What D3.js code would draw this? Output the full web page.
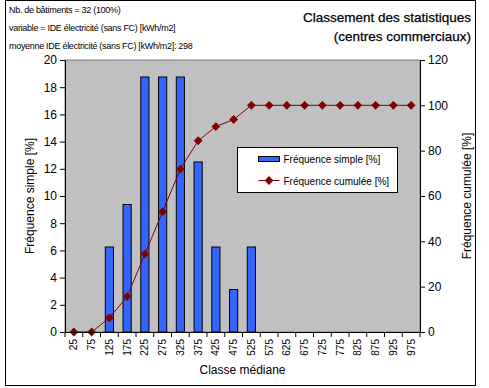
<!DOCTYPE html>
<html>
<head>
<meta charset="utf-8">
<script src="https://cdn.jsdelivr.net/npm/d3@7"></script>
<style>
  body { margin: 0; background: #fff; }
  text { font-family: "Liberation Sans", Arial, sans-serif; }
</style>
</head>
<body>
<div id="chart"></div>
<script>
// Data
const classes = [25, 75, 125, 175, 225, 275, 325, 375, 425, 475, 525, 575, 625, 675, 725, 775, 825, 875, 925, 975];
const freqSimple = [0, 0, 6.25, 9.375, 18.75, 18.75, 18.75, 12.5, 6.25, 3.125, 6.25, 0, 0, 0, 0, 0, 0, 0, 0, 0];
const freqCumul = [0, 0, 6.25, 15.625, 34.375, 53.125, 71.875, 84.375, 90.625, 93.75, 100, 100, 100, 100, 100, 100, 100, 100, 100, 100];
const leftTicks = [0, 2, 4, 6, 8, 10, 12, 14, 16, 18, 20];
const rightTicks = [0, 20, 40, 60, 80, 100, 120];
const infoLines = [
    "Nb. de bâtiments = 32 (100%)",
    "variable = IDE électricité (sans FC) [kWh/m2]",
    "moyenne IDE électricité (sans FC) [kWh/m2]: 298"
];
const titleLines = ["Classement des statistiques", "(centres commerciaux)"];

const width = 489, height = 388;
const plot = { left: 65, right: 420, top: 60, bottom: 332 };

const svg = d3.select('#chart').append('svg')
    .attr('width', width)
    .attr('height', height);

// Outer frame
svg.append('rect')
    .attr('x', 5.5).attr('y', 0.5)
    .attr('width', 470).attr('height', 385)
    .attr('fill', 'none')
    .attr('stroke', 'black');

// Info text top left
svg.append('g').selectAll('text')
    .data(infoLines)
    .join('text')
    .attr('x', 9)
    .attr('y', (d, i) => 13 + i * 18)
    .attr('font-size', 9)
    .attr('letter-spacing', -0.3)
    .text(d => d);

// Title
svg.append('g').selectAll('text')
    .data(titleLines)
    .join('text')
    .attr('x', 471)
    .attr('y', (d, i) => 22 + i * 19)
    .attr('text-anchor', 'end')
    .attr('font-size', 13.5)
    .attr('stroke', 'black')
    .attr('stroke-width', 0.25)
    .text(d => d);

const x = d3.scaleBand()
    .domain(classes)
    .range([plot.left, plot.right]);

const yL = d3.scaleLinear()
    .domain([0, 20])
    .range([plot.bottom, plot.top]);

const yR = d3.scaleLinear()
    .domain([0, 120])
    .range([plot.bottom, plot.top]);

// Plot background
svg.append('rect')
    .attr('x', plot.left).attr('y', plot.top)
    .attr('width', plot.right - plot.left)
    .attr('height', plot.bottom - plot.top)
    .attr('fill', '#c0c0c0')
    .attr('stroke', '#808080');

// Bars
const barW = x.bandwidth() * 0.46;
svg.append('g').selectAll('rect')
    .data(classes.map((c, i) => ({ c, v: freqSimple[i] })).filter(d => d.v > 0))
    .join('rect')
    .attr('x', d => x(d.c) + (x.bandwidth() - barW) / 2)
    .attr('y', d => yL(d.v))
    .attr('width', barW)
    .attr('height', d => yL(0) - yL(d.v))
    .attr('fill', '#3366ff')
    .attr('stroke', 'black')
    .attr('stroke-width', 1);

// Cumulative line
const cx = c => x(c) + x.bandwidth() / 2;
const cumData = classes.map((c, i) => ({ c, v: freqCumul[i] }));
svg.append('path')
    .datum(cumData)
    .attr('fill', 'none')
    .attr('stroke', '#800000')
    .attr('stroke-width', 1)
    .attr('d', d3.line().x(d => cx(d.c)).y(d => yR(d.v)));

const diamond = d3.symbol().type(d3.symbolDiamond2).size(50);
svg.append('g').selectAll('path')
    .data(cumData)
    .join('path')
    .attr('transform', d => `translate(${cx(d.c)},${yR(d.v)})`)
    .attr('d', diamond)
    .attr('fill', '#800000');

// Left axis
const leftAxis = svg.append('g')
    .attr('transform', `translate(${plot.left},0)`)
    .call(d3.axisLeft(yL).tickValues(leftTicks).tickSize(5).tickSizeOuter(0));
leftAxis.selectAll('text').attr('font-size', 12).attr('font-family', '"Liberation Sans", Arial, sans-serif');
leftAxis.append('text')
    .attr('transform', `rotate(-90)`)
    .attr('x', -(plot.top + plot.bottom) / 2)
    .attr('y', -31)
    .attr('fill', 'black')
    .attr('text-anchor', 'middle')
    .attr('font-size', 12)
    .text('Fréquence simple [%]');

// Right axis
const rightAxis = svg.append('g')
    .attr('transform', `translate(${plot.right},0)`)
    .call(d3.axisRight(yR).tickValues(rightTicks).tickSize(5).tickSizeOuter(0));
rightAxis.selectAll('text').attr('font-size', 12).attr('font-family', '"Liberation Sans", Arial, sans-serif');
rightAxis.append('text')
    .attr('transform', `rotate(-90)`)
    .attr('x', -(plot.top + plot.bottom) / 2)
    .attr('y', 51)
    .attr('fill', 'black')
    .attr('text-anchor', 'middle')
    .attr('font-size', 12)
    .text('Fréquence cumulée [%]');

// Bottom axis: ticks between categories
const bottomAxis = svg.append('g')
    .attr('transform', `translate(0,${plot.bottom})`)
    .call(d3.axisBottom(x).tickSize(0).tickSizeOuter(0));
bottomAxis.selectAll('.tick text')
    .attr('font-size', 10)
    .attr('font-family', '"Liberation Sans", Arial, sans-serif')
    .attr('transform', 'rotate(-90)')
    .attr('text-anchor', 'end')
    .attr('x', -7)
    .attr('y', 0)
    .attr('dy', '0.35em');
bottomAxis.append('g').selectAll('line')
    .data(classes.concat([null]))
    .join('line')
    .attr('x1', (d, i) => plot.left + i * x.step())
    .attr('x2', (d, i) => plot.left + i * x.step())
    .attr('y1', 0)
    .attr('y2', 5)
    .attr('stroke', 'black');
bottomAxis.append('text')
    .attr('x', (plot.left + plot.right) / 2)
    .attr('y', 42)
    .attr('fill', 'black')
    .attr('text-anchor', 'middle')
    .attr('font-size', 12)
    .text('Classe médiane');

// Legend
const legend = svg.append('g').attr('transform', 'translate(237.5,147.5)');
legend.append('rect')
    .attr('width', 160).attr('height', 45)
    .attr('fill', 'white').attr('stroke', 'black');
legend.append('rect')
    .attr('x', 21).attr('y', 9)
    .attr('width', 21).attr('height', 5)
    .attr('fill', '#3366ff').attr('stroke', 'black');
legend.append('text')
    .attr('x', 46).attr('y', 15)
    .attr('font-size', 10)
    .text('Fréquence simple [%]');
legend.append('line')
    .attr('x1', 21).attr('x2', 42)
    .attr('y1', 33).attr('y2', 33)
    .attr('stroke', '#800000');
legend.append('path')
    .attr('transform', 'translate(31.5,33)')
    .attr('d', diamond)
    .attr('fill', '#800000');
legend.append('text')
    .attr('x', 46).attr('y', 37)
    .attr('font-size', 10)
    .text('Fréquence cumulée [%]');
</script>
</body>
</html>
